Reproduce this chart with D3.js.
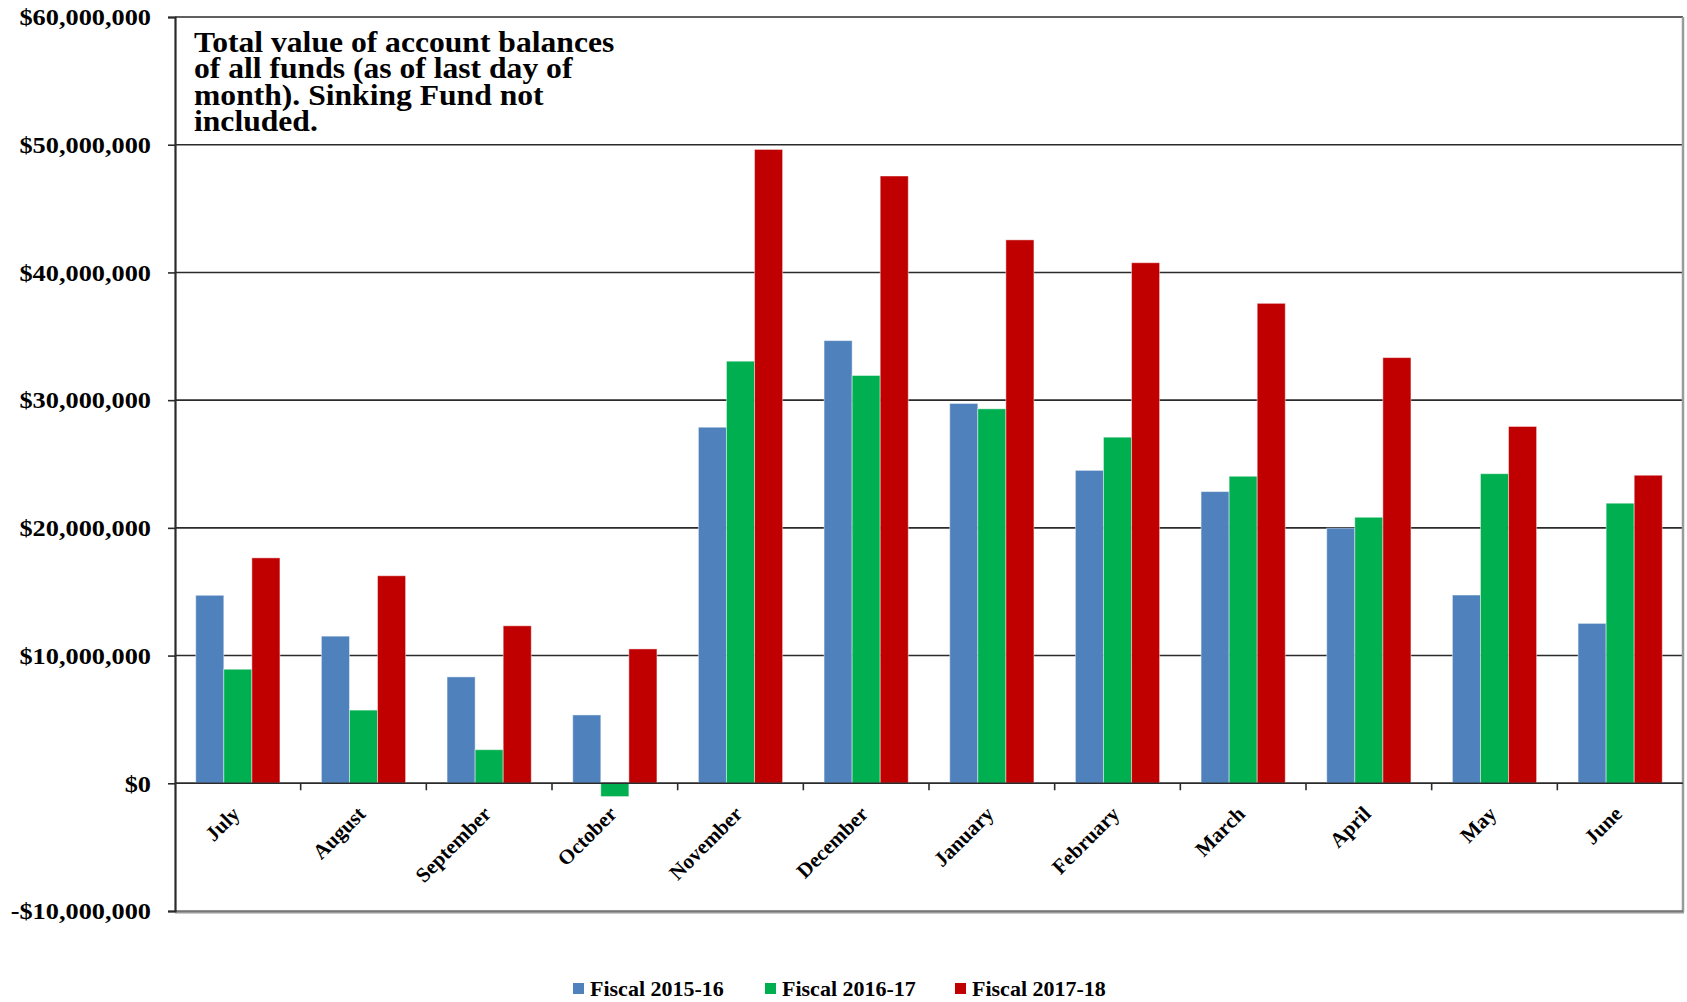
<!DOCTYPE html>
<html>
<head>
<meta charset="utf-8">
<script src="https://cdn.jsdelivr.net/npm/d3@7"></script>
<style>
  html, body { margin: 0; padding: 0; background: #fff; }
  svg { display: block; }
  text { font-family: "Liberation Serif", "Times New Roman", serif; font-weight: bold; fill: #000; }
</style>
</head>
<body>
<svg id="chart" width="1687" height="1002"></svg>
<script>
const months = ["July","August","September","October","November","December","January","February","March","April","May","June"];
const seriesNames = ["Fiscal 2015-16","Fiscal 2016-17","Fiscal 2017-18"];
const fy2015 = [14.72e6, 11.52e6, 8.33e6, 5.35e6, 27.88e6, 34.66e6, 29.74e6, 24.5e6, 22.84e6, 19.98e6, 14.74e6, 12.52e6];
const fy2016 = [8.93e6, 5.73e6, 2.63e6, -1.04e6, 33.05e6, 31.93e6, 29.32e6, 27.1e6, 24.04e6, 20.83e6, 24.24e6, 21.93e6];
const fy2017 = [17.65e6, 16.25e6, 12.33e6, 10.52e6, 49.63e6, 47.55e6, 42.55e6, 40.76e6, 37.58e6, 33.33e6, 27.94e6, 24.12e6];
const yTicks = [-10e6, 0, 10e6, 20e6, 30e6, 40e6, 50e6, 60e6];
const colors = ["#4F81BD", "#00B050", "#C00000"];
const titleLines = ["Total value of account balances", "of all funds (as of last day of", "month). Sinking Fund not", "included."];

const seriesValues = [fy2015, fy2016, fy2017];
const svg = d3.select("#chart");
const L = 175, R = 1683, T = 17, B = 911;

const x0 = d3.scaleBand().domain(months).range([L, R]).paddingInner(0.33).paddingOuter(0.165);
const x1 = d3.scaleBand().domain(seriesNames).range([0, x0.bandwidth()]);
const y = d3.scaleLinear().domain([-10e6, 60e6]).range([B, T]);
const fmt = v => (v < 0 ? "-$" : "$") + d3.format(",")(Math.abs(v));

// gridlines
svg.append("g").selectAll("line").data(yTicks.filter(v => v > -10e6)).join("line")
  .attr("x1", L).attr("x2", R).attr("y1", d => y(d)).attr("y2", d => y(d))
  .attr("stroke", "#2b2b2b").attr("stroke-width", 1.6);

// right and bottom frame (grey)
svg.append("line").attr("x1", R).attr("x2", R).attr("y1", T).attr("y2", B + 1)
  .attr("stroke", "#9a9a9a").attr("stroke-width", 2.5);
svg.append("line").attr("x1", L).attr("x2", R + 1).attr("y1", B + 1).attr("y2", B + 1)
  .attr("stroke", "#9a9a9a").attr("stroke-width", 3);
svg.append("line").attr("x1", L).attr("x2", R).attr("y1", B).attr("y2", B)
  .attr("stroke", "#555").attr("stroke-width", 1);

// bars
const groups = svg.append("g").selectAll("g").data(months).join("g")
  .attr("transform", d => `translate(${x0(d)},0)`);
groups.selectAll("rect").data((m, i) => seriesNames.map((s, k) => ({s, k, v: seriesValues[k][i]}))).join("rect")
  .attr("x", d => x1(d.s))
  .attr("width", x1.bandwidth())
  .attr("y", d => y(Math.max(0, d.v)))
  .attr("height", d => Math.abs(y(d.v) - y(0)))
  .attr("fill", d => colors[d.k])
  .attr("stroke", "#ffffff").attr("stroke-opacity", 0.45).attr("stroke-width", 1);

// zero line on top
svg.append("line").attr("x1", L).attr("x2", R).attr("y1", y(0)).attr("y2", y(0))
  .attr("stroke", "#2b2b2b").attr("stroke-width", 1.6);

// y axis (domain + ticks via d3 axis, labels drawn wider)
const yAxis = d3.axisLeft(y).tickValues(yTicks).tickFormat("").tickSize(7);
const ga = svg.append("g").attr("transform", `translate(${L},0)`).call(yAxis);
ga.select(".domain").attr("stroke", "#2b2b2b").attr("stroke-width", 2.2);
ga.selectAll(".tick line").attr("stroke", "#2b2b2b").attr("stroke-width", 1.6);
svg.append("g").selectAll("text").data(yTicks).join("text")
  .attr("transform", d => `translate(151,${y(d)}) scale(1.12,1)`)
  .attr("text-anchor", "end").attr("dy", "0.35em")
  .attr("font-size", 23.5)
  .text(fmt);

// x axis tick marks at category boundaries
const bounds = d3.range(1, months.length).map(i => L + i * x0.step());
svg.append("g").selectAll("line").data(bounds).join("line")
  .attr("x1", d => d).attr("x2", d => d).attr("y1", y(0)).attr("y2", y(0) + 7)
  .attr("stroke", "#2b2b2b").attr("stroke-width", 1.6);

// x labels
svg.append("g").selectAll("text").data(months).join("text")
  .attr("transform", d => `translate(${x0(d) + x0.bandwidth() / 2 - 2},${810}) rotate(-45)`)
  .attr("text-anchor", "end").attr("dy", "0.35em")
  .attr("font-size", 21)
  .text(d => d);

// title
svg.append("g").selectAll("text").data(titleLines).join("text")
  .attr("transform", (d, i) => `translate(194,${51.5 + i * 26.6}) scale(1.09,1)`)
  .attr("font-size", 29)
  .text(d => d);

// legend
const legX = [573, 765, 955];
const leg = svg.append("g").selectAll("g").data(seriesNames).join("g")
  .attr("transform", (d, i) => `translate(${legX[i]},0)`);
leg.append("rect").attr("x", 0).attr("y", 983).attr("width", 11).attr("height", 11)
  .attr("fill", (d, i) => colors[i]);
leg.append("text").attr("x", 17).attr("y", 995.5).attr("font-size", 22).text(d => d);
</script>
</body>
</html>
